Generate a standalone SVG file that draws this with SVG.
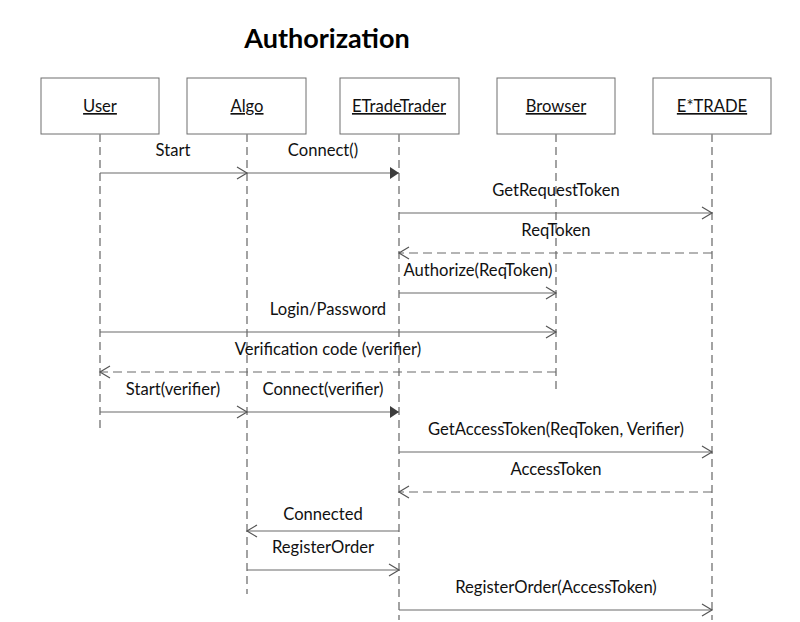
<svg xmlns="http://www.w3.org/2000/svg" width="800" height="622" viewBox="0 0 800 622">
<style>
text{font-family:Lato,"Open Sans","Liberation Sans",sans-serif;font-size:16.6px;fill:#111;text-anchor:middle}
.title{font-weight:bold;font-size:27px;fill:#000}
.box{fill:#fff;stroke:#6e6e6e;stroke-width:1}
.life{stroke:#8c8c8c;stroke-width:1.6;stroke-dasharray:8 5;fill:none}
.msg{stroke:#6a6a6a;stroke-width:1.2;fill:none}
.ret{stroke-dasharray:9 5}
.u{text-decoration:underline}
</style>
<defs>
<marker id="open" markerUnits="userSpaceOnUse" markerWidth="14" markerHeight="14" viewBox="-12 -7 14 14" refX="0" refY="0" orient="auto">
<path d="M-10,-6 L0,0 L-10,6" fill="none" stroke="#555" stroke-width="1.2"/>
</marker>
<marker id="filled" markerUnits="userSpaceOnUse" markerWidth="14" markerHeight="14" viewBox="-12 -7 14 14" refX="0" refY="0" orient="auto">
<path d="M-9,-6 L0,0 L-9,6 Z" fill="#3c3c3c"/>
</marker>
</defs>
<rect width="800" height="622" fill="#fff"/>
<text class="title" x="327" y="48">Authorization</text>

<g id="node-user">
<rect class="box" x="41" y="78" width="118" height="56"/>
<text class="u" x="100" y="112">User</text>
<line class="life" x1="100" y1="134" x2="100" y2="428"/>
</g>
<g id="node-algo">
<rect class="box" x="187" y="78" width="119" height="56"/>
<text class="u" x="247" y="112">Algo</text>
<line class="life" x1="247" y1="134" x2="247" y2="594"/>
</g>
<g id="node-etradetrader">
<rect class="box" x="340" y="78" width="119" height="56"/>
<text class="u" x="399" y="112">ETradeTrader</text>
<line class="life" x1="399" y1="134" x2="399" y2="620"/>
</g>
<g id="node-browser">
<rect class="box" x="497" y="78" width="118" height="56"/>
<text class="u" x="556" y="112">Browser</text>
<line class="life" x1="556" y1="134" x2="556" y2="392"/>
</g>
<g id="node-etrade">
<rect class="box" x="653" y="78" width="118" height="56"/>
<text class="u" x="712" y="112">E*TRADE</text>
<line class="life" x1="712" y1="134" x2="712" y2="620"/>
</g>

<g id="connectors">
<line class="msg" x1="100" y1="173" x2="247" y2="173" marker-end="url(#open)"/>
<text x="173" y="156">Start</text>
<line class="msg" x1="247" y1="173" x2="399" y2="173" marker-end="url(#filled)"/>
<text x="323" y="156">Connect()</text>
<line class="msg" x1="399" y1="213" x2="712" y2="213" marker-end="url(#open)"/>
<text x="556" y="196">GetRequestToken</text>
<line class="msg ret" x1="712" y1="253" x2="399" y2="253" marker-end="url(#open)"/>
<text x="556" y="236">ReqToken</text>
<line class="msg" x1="399" y1="293" x2="556" y2="293" marker-end="url(#open)"/>
<text x="478" y="276">Authorize(ReqToken)</text>
<line class="msg" x1="100" y1="332" x2="556" y2="332" marker-end="url(#open)"/>
<text x="328" y="315">Login/Password</text>
<line class="msg ret" x1="556" y1="372" x2="100" y2="372" marker-end="url(#open)"/>
<text x="328" y="355">Verification code (verifier)</text>
<line class="msg" x1="100" y1="412" x2="247" y2="412" marker-end="url(#open)"/>
<text x="173" y="395">Start(verifier)</text>
<line class="msg" x1="247" y1="412" x2="399" y2="412" marker-end="url(#filled)"/>
<text x="323" y="395">Connect(verifier)</text>
<line class="msg" x1="399" y1="452" x2="712" y2="452" marker-end="url(#open)"/>
<text x="556" y="435">GetAccessToken(ReqToken, Verifier)</text>
<line class="msg ret" x1="712" y1="492" x2="399" y2="492" marker-end="url(#open)"/>
<text x="556" y="475">AccessToken</text>
<line class="msg" x1="399" y1="531" x2="247" y2="531" marker-end="url(#open)"/>
<text x="323" y="520">Connected</text>
<line class="msg" x1="247" y1="570" x2="399" y2="570" marker-end="url(#open)"/>
<text x="323" y="553">RegisterOrder</text>
<line class="msg" x1="399" y1="610" x2="712" y2="610" marker-end="url(#open)"/>
<text x="556" y="593">RegisterOrder(AccessToken)</text>
</g>
</svg>
